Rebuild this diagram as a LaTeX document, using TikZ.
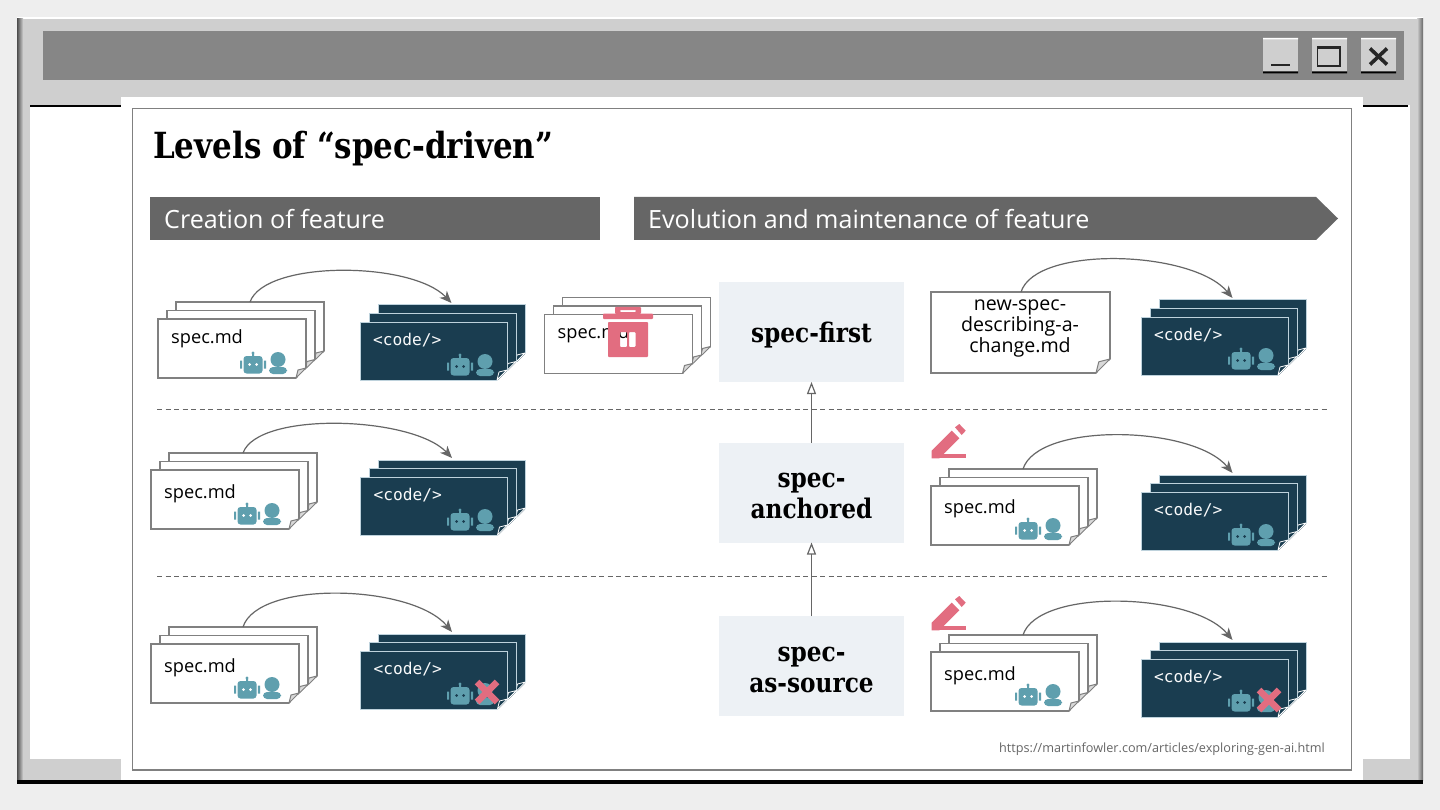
\documentclass[tikz,border=0pt]{standalone}
\usepackage{fontspec}
\setmainfont{Open Sans}
\newfontfamily\titlefont[FakeStretch=0.86]{DejaVu Serif}
\newfontfamily\codefont{DejaVu Sans Mono}
\usetikzlibrary{arrows.meta,positioning,calc}
\definecolor{pagegrey}{RGB}{238,238,238}
\definecolor{framegrey}{RGB}{207,207,207}
\definecolor{bargrey}{RGB}{134,134,134}
\definecolor{headgrey}{RGB}{102,102,102}
\definecolor{levelbg}{RGB}{237,241,245}
\definecolor{codenavy}{RGB}{26,61,80}
\definecolor{codeedge}{RGB}{190,210,220}
\definecolor{iconteal}{RGB}{95,159,174}
\definecolor{alertred}{RGB}{226,109,128}

\begin{document}
\begin{tikzpicture}[
  x=1pt, y=-1pt,
  headbar/.style={fill=headgrey, minimum height=43pt, inner sep=0pt, outer sep=0pt, anchor=north west},
  headtext/.style={text=white, anchor=west, inner sep=0pt, font=\fontsize{25.1}{29}\selectfont},
  level/.style={fill=levelbg, minimum width=185pt, minimum height=100pt, inner sep=0pt, outer sep=0pt},
  leveltext/.style={align=center, inner sep=0pt, font=\fontsize{27}{31}\selectfont\titlefont\bfseries},
  specsheet/.style={draw=black!50, line width=1.3pt, fill=white, inner sep=0pt, outer sep=0pt, anchor=north west},
  codesheet/.style={draw=codeedge, line width=1pt, fill=codenavy, inner sep=0pt, outer sep=0pt, anchor=north west},
  spectext/.style={anchor=west, inner sep=0pt, font=\fontsize{18.2}{22}\selectfont},
  codetext/.style={anchor=west, inner sep=0pt, text=white!90!codeedge, font=\fontsize{16.2}{19}\selectfont\codefont},
  flow/.style={draw=black!60, line width=1.2pt, -{Stealth[length=12pt,width=10pt,inset=3.5pt]},
               to path={.. controls +(15,-47) and +(-40,-48) .. (\tikztotarget)}},
  flowlow/.style={flow, to path={.. controls +(15,-42) and +(-40,-42) .. (\tikztotarget)}},
  climb/.style={draw=black!60, line width=1.2pt, -{Triangle[open,length=12pt,width=9pt]}},
  divider/.style={draw=black!60, line width=1pt, dash pattern=on 5pt off 3.5pt},
  btn/.style={fill=framegrey},
  pics/specpage/.style n args={3}{code={
    \node[specsheet, minimum width=#1pt, minimum height=#2pt] (-sheet) at (0,0) {};
    \fill[white] (#1+1,#2-#3) -- (#1+1,#2+1) -- (#1-#3,#2+1) -- cycle;
    \draw[fill=black!15, draw=black!50, line width=1pt, line join=round] (#1,#2-#3) -- (#1-0.8*#3,#2-0.8*#3) -- (#1-#3,#2) -- cycle;
  }},
  pics/codepage/.style={code={
    \node[codesheet, minimum width=147pt, minimum height=58pt] (-sheet) at (0,0) {};
    \fill[white] (148,48) -- (148,59) -- (137,59) -- cycle;
    \draw[fill=codenavy, draw=white, line width=.8pt, line join=round] (147,48) -- (139,50) -- (137,58) -- cycle;
  }},
  pics/specstack/.style={code={
    \pic (-back) at (18,-17) {specpage={148}{59}{10}};
    \pic (-mid) at (9,-8.5) {specpage={148}{59}{10}};
    \pic (-front) at (0,0) {specpage={148}{59}{10}};
    \node[spectext] (-label) at (13,#1) {spec.md};
    \coordinate (-out) at (92,-17);
  }},
  pics/codestack/.style={code={
    \pic (-back) at (18,-17) {codepage};
    \pic (-mid) at (9,-8.5) {codepage};
    \pic (-front) at (0,0) {codepage};
    \node[codetext] (-label) at (13,18) {<code/>};
    \coordinate (-in) at (91.5,-19);
  }},
  pics/botuser/.style={code={
    % robot head, ears, antenna
    \fill[iconteal, rounded corners=3pt] (-9.5,-7) rectangle (9.5,10.5);
    \fill[iconteal] (-13,-2.5) rectangle (-10.8,5.5) (10.8,-2.5) rectangle (13,5.5);
    \fill[iconteal] (-1,-9) rectangle (1,-7) (0,-10) circle (1.7);
    \fill[#1] (-3.5,1.5) circle (1.5) (3.5,1.5) circle (1.5);
    % person
    \fill[iconteal] (25,-3.5) circle (7.5);
    \fill[iconteal, rounded corners=4pt] (16,11) -- (16,4) -- (34,4) -- (34,11) -- cycle;
  }},
  pics/crossout/.style={code={
    \draw[alertred, line width=6.5pt] (-10,-10) -- (10,10) (10,-10) -- (-10,10);
  }},
  pics/pencil/.style={code={
    \fill[alertred] (0.7,26.7) -- (20.7,6.7) -- (28.3,14.3) -- (8.3,34.3) -- (0.7,34.3) -- cycle;
    \fill[alertred] (24,3.3) -- (28.3,0) -- (34.7,6.7) -- (30.7,11) -- cycle;
    \fill[alertred] (8.3,30) rectangle (35,34.3);
  }}
]
\useasboundingbox (0,0) rectangle (1440,810);

% ---- window chrome ----
\fill[pagegrey] (0,0) rectangle (1440,810);
\fill[framegrey] (17,17) rectangle (1423,783);
\fill[white] (17,17) rectangle (1423,19);
\shade[left color=black!70, right color=framegrey] (17,19) rectangle (23,780);
\shade[left color=framegrey, right color=black!60] (1417,19) rectangle (1423,780);
\fill[black] (17,780) rectangle (1423,783.5);
\fill[bargrey] (43,31) rectangle (1404,80);
\fill[white] (30,105) rectangle (1410,759);
\fill[black] (30,105) rectangle (1408,107);

% ---- window buttons ----
\fill[btn] (1263,38) rectangle (1298,73);
\fill[btn] (1312,38) rectangle (1347,73);
\fill[btn] (1361,38) rectangle (1396,73);
\fill[white] (1263,38) rectangle (1298,39.5) (1312,38) rectangle (1347,39.5) (1361,38) rectangle (1396,39.5);
\fill[black] (1263,71.5) rectangle (1298,73.5) (1312,71.5) rectangle (1347,73.5) (1361,71.5) rectangle (1396,73.5);
\fill[black!85] (1271,64) rectangle (1290,66);
\draw[black!85, line width=1.3pt] (1317.5,46.5) rectangle (1340,66);
\fill[black!85] (1317,46) rectangle (1340.5,49.5);
\draw[black!85, line width=3.6pt] (1370,48.5) -- (1387,64.5) (1387,48.5) -- (1370,64.5);

% ---- slide ----
\fill[white] (121,97) rectangle (1363,780);
\draw[black!50, line width=1.3pt] (132.5,108.5) rectangle (1351.5,770);
\node[anchor=west, inner sep=0pt, font=\fontsize{36}{42}\selectfont\titlefont\bfseries] (title) at (153,148.5) {Levels of “spec-driven”};

% ---- header bars ----
\node[headbar, minimum width=450pt] (creation) at (150,197) {};
\node[headtext] (creationtext) at (164,219) {Creation of feature};
\fill[headgrey] (634,197) -- (1316,197) -- (1338,218.5) -- (1316,240) -- (634,240) -- cycle;
\node[headtext] (evolutiontext) at (648,219) {Evolution and maintenance of feature};

% ---- levels in the middle ----
\node[level] (first) at (811.5,332) {};
\node[leveltext] (firsttext) at (811.5,335) {spec-first};
\node[level] (anchored) at (811.5,492.5) {};
\node[leveltext] (anchoredtext) at (811.5,495.5) {spec-\\anchored};
\node[level] (source) at (811.5,666) {};
\node[leveltext] (sourcetext) at (811.5,670) {spec-\\as-source};
\draw[climb] (anchored.north) -- (first.south);
\draw[climb] (source.north) -- (anchored.south);

% ---- row dividers ----
\coordinate (d1a) at (157,409);
\coordinate (d1b) at (1327,409);
\coordinate (d2a) at (157,576);
\coordinate (d2b) at (1327,576);
\draw[divider] (d1a) -- (d1b);
\draw[divider] (d2a) -- (d2b);

% ---- row 1: spec-first ----
\pic (specA) at (158,319) {specstack=20};
\pic at (253,363) {botuser=white};
\pic (codeA) at (360,322) {codestack};
\pic at (460,365) {botuser=codenavy};
\draw[flowlow] (specA-out) to (codeA-in);

\pic (specOld) at (544.5,314.5) {specstack=19.5};
\fill[alertred, even odd rule, rounded corners=.8pt]
  (608,322) rectangle (648,357) (620,332) rectangle (627,347) (629,332) rectangle (635.5,347)
  (603,313.5) rectangle (653,319) (615,307) rectangle (641,313.5) (620,310) rectangle (636,312);

\pic (specNew) at (931,292) {specpage={179}{81}{14}};
\node[align=center, inner sep=0pt, font=\fontsize{19.6}{21}\selectfont] (newlabel) at (1020,329) {new-spec-\\describing-a-\\change.md};
\coordinate (newout) at (1021,292);
\pic (codeB) at (1141,317) {codestack};
\pic at (1241,359) {botuser=codenavy};
\draw[flow] (newout) to (codeB-in);

% ---- row 2: spec-anchored ----
\pic (specC) at (151,470) {specstack=24};
\pic at (247,514) {botuser=white};
\pic (codeC) at (360.5,477) {codestack};
\pic at (460,520) {botuser=codenavy};
\draw[flowlow] (specC-out) to (codeC-in);

\pic at (931,424) {pencil};
\pic (specD) at (931,486) {specstack=23};
\pic at (1028,529) {botuser=white};
\pic (codeD) at (1141,492) {codestack};
\pic at (1241,535) {botuser=codenavy};
\draw[flow] (specD-out) to (codeD-in);

% ---- row 3: spec-as-source ----
\pic (specE) at (151,644) {specstack=24};
\pic at (247,688) {botuser=white};
\pic (codeE) at (360.5,651) {codestack};
\pic at (460,694) {botuser=codenavy};
\pic at (487,692) {crossout};
\draw[flow] (specE-out) to (codeE-in);

\pic at (931,596) {pencil};
\pic (specF) at (931,652) {specstack=24};
\pic at (1028,695) {botuser=white};
\pic (codeF) at (1141,659) {codestack};
\pic at (1241,701) {botuser=codenavy};
\pic at (1269,700) {crossout};
\draw[flow] (specF-out) to (codeF-in);

% ---- source link ----
\node[anchor=east, inner sep=0pt, text=black!60, font=\fontsize{12.65}{15}\selectfont] (url) at (1325,749.5) {https://martinfowler.com/articles/exploring-gen-ai.html};
\end{tikzpicture}
\end{document}
